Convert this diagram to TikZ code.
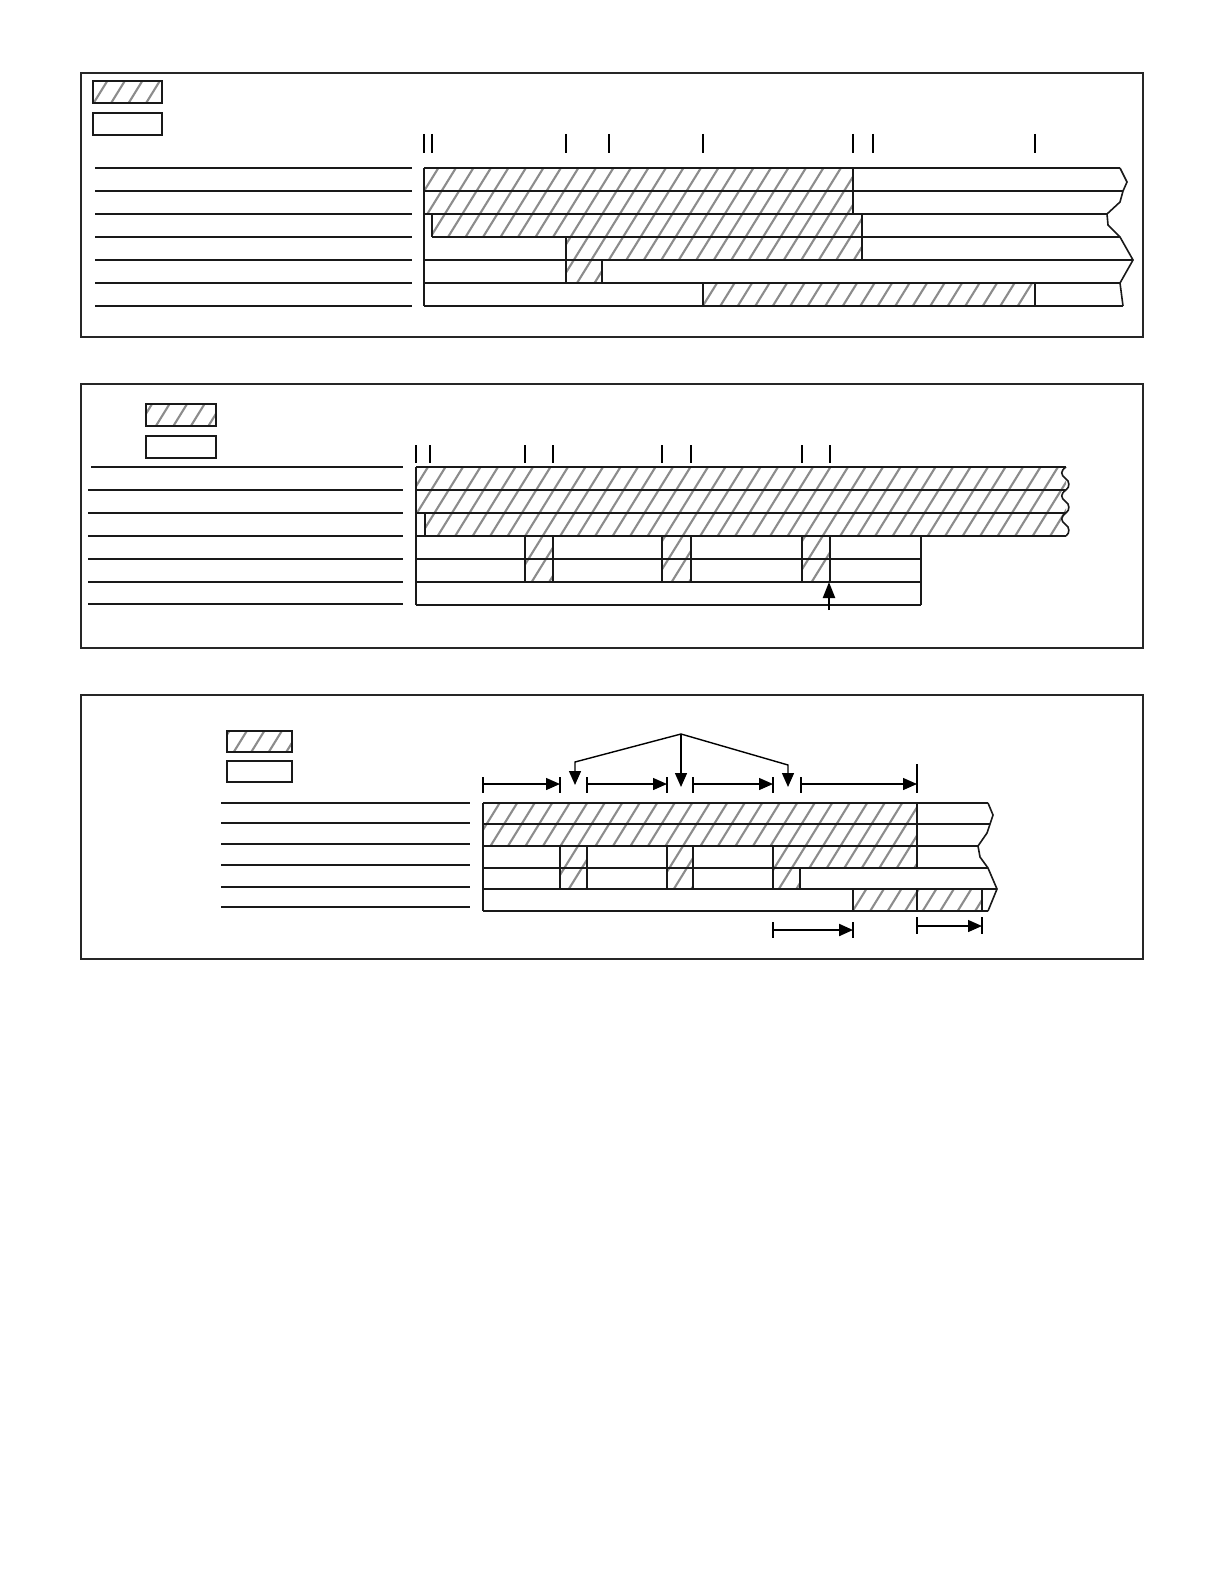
\documentclass[tikz,border=0pt]{standalone}
\usepackage{tikz}
\usetikzlibrary{arrows.meta}

\tikzset{
  hatchline/.style={draw=gray!90, line width=1.05pt},
  panel/.style={draw=black!85, line width=1.4pt},
  bar/.style={draw=black!90, line width=0.8pt},
  heavybar/.style={draw=black!90, line width=1.1pt},
  rule/.style={draw=black!90, line width=0.7pt},
  tickmark/.style={draw=black, line width=0.7pt},
  heavytick/.style={draw=black, line width=1.3pt},
  dim/.style={draw=black, line width=0.7pt, -{Triangle[length=7pt,width=6pt]}},
  probe/.style={draw=black, line width=1.1pt, -{Triangle[length=8pt,width=6pt]}},
}

% diagonal hatching clipped to a box (x1,y1)-(x2,y2)
\newcommand{\hatchfill}[4]{%
  \begin{scope}
    \clip (#1,#2) rectangle (#3,#4);
    \pgfmathtruncatemacro{\hka}{(#1+0.62*#2)/17.5-1}
    \pgfmathtruncatemacro{\hkb}{(#3+0.62*#4)/17.5+1}
    \foreach \k in {\hka,...,\hkb}
      \draw[hatchline] ({17.5*\k-0.62*#4},#4) -- ({17.5*\k-0.62*#2},#2);
  \end{scope}}

\begin{document}
\begin{tikzpicture}[x=0.5pt, y=-0.5pt]
  \path[fill=white, use as bounding box] (0,0) rectangle (1224,1584);

  % ---------- panel 1 ----------
  \draw[panel] (81,73) rectangle (1143,337);
  \hatchfill{93}{81}{162}{103}
  \draw[bar] (93,81) rectangle (162,103);
  \draw[bar] (93,113) rectangle (162,135);
  \foreach \y in {168,191,214,237,283,306}
    \draw[rule] (95,\y) -- (412,\y);
  \draw[heavybar] (95,260) -- (412,260);
  \foreach \x in {432,566,609,853,873}
    \draw[tickmark] (\x,134) -- (\x,153);
  \foreach \x in {424,703,1035}
    \draw[heavytick] (\x,134) -- (\x,153);

  \hatchfill{424}{168}{853}{191}
  \hatchfill{424}{191}{853}{214}
  \hatchfill{432}{214}{862}{237}
  \hatchfill{566}{237}{862}{260}
  \hatchfill{566}{260}{602}{283}
  \hatchfill{703}{283}{1035}{306}

  \draw[heavybar] (424,168) -- (1120,168);
  \draw[heavybar] (424,191) -- (1123,191);
  \draw[bar] (424,214) -- (1107,214);
  \draw[heavybar] (432,237) -- (1120,237);
  \draw[bar] (424,260) -- (1133,260);
  \draw[bar] (424,283) -- (1120,283);
  \draw[bar] (424,306) -- (1123,306);
  \draw[bar] (1120,168) -- (1127,182) -- (1123,191) -- (1120,202) -- (1107,214)
    -- (1108,225) -- (1120,237) -- (1133,260) -- (1120,283) -- (1123,306);
  \draw[heavybar] (424,168) -- (424,306);
  \draw[bar] (853,168) -- (853,214);
  \draw[bar] (432,214) -- (432,237);
  \draw[bar] (862,214) -- (862,260);
  \draw[bar] (566,237) -- (566,283);
  \draw[heavybar] (602,260) -- (602,283);
  \draw[bar] (703,283) -- (703,306);
  \draw[bar] (1035,283) -- (1035,306);

  % ---------- panel 2 ----------
  \draw[panel] (81,384) rectangle (1143,648);
  \hatchfill{146}{404}{216}{426}
  \draw[bar] (146,404) rectangle (216,426);
  \draw[bar] (146,436) rectangle (216,458);
  \draw[rule] (91,467) -- (403,467);
  \foreach \y in {490,513,536,559,582}
    \draw[heavybar] (88,\y) -- (403,\y);
  \draw[rule] (88,604) -- (403,604);
  \foreach \x in {416,553,691,802}
    \draw[tickmark] (\x,445) -- (\x,463);
  \foreach \x in {430,525,662,830}
    \draw[heavytick] (\x,445) -- (\x,463);

  \hatchfill{416}{467}{1066}{513}
  \hatchfill{425}{513}{1066}{536}
  \foreach \a/\b in {525/553,662/691,802/830} {
    \hatchfill{\a}{536}{\b}{582}
  }

  \foreach \y in {467,490,513}
    \draw[bar] (416,\y) -- (1066,\y);
  \draw[heavybar] (416,536) -- (1066,536);
  \foreach \y in {559,582}
    \draw[heavybar] (416,\y) -- (921,\y);
  \draw[heavybar] (416,605) -- (921,605);
  \foreach \y in {467,490,513}
    \draw[bar] (1066,\y) .. controls (1060,\y+4) and (1061,\y+8) .. (1065,\y+11)
      .. controls (1070,\y+14) and (1070,\y+20) .. (1066,\y+23);
  \draw[bar] (416,467) -- (416,605);
  \draw[bar] (425,513) -- (425,536);
  \foreach \x in {525,553,662,691,802,830}
    \draw[heavybar] (\x,536) -- (\x,582);
  \draw[heavybar] (921,536) -- (921,605);
  \coordinate (probe base) at (829,610);
  \coordinate (probe tip) at (829,582);
  \draw[probe] (probe base) -- (probe tip);

  % ---------- panel 3 ----------
  \draw[panel] (81,695) rectangle (1143,959);
  \hatchfill{227}{731}{292}{752}
  \draw[bar] (227,731) rectangle (292,752);
  \draw[bar] (227,761) rectangle (292,782);
  \foreach \y in {803,823,844,865,887,907}
    \draw[rule] (221,\y) -- (470,\y);

  \hatchfill{483}{803}{917}{846}
  \foreach \a/\b in {560/587,667/693} {
    \hatchfill{\a}{846}{\b}{889}
  }
  \hatchfill{773}{846}{917}{868}
  \hatchfill{773}{868}{800}{889}
  \hatchfill{853}{889}{982}{911}

  \draw[bar] (483,803) -- (988,803);
  \draw[bar] (483,824) -- (990,824);
  \draw[heavybar] (483,846) -- (978,846);
  \draw[heavybar] (483,868) -- (988,868);
  \draw[bar] (483,889) -- (997,889);
  \draw[bar] (483,911) -- (988,911);
  \draw[heavybar] (917,911) -- (982,911);
  \draw[bar] (988,803) -- (993,815) -- (990,824) -- (987,833) -- (978,846)
    -- (980,857) -- (988,868) -- (997,889) -- (988,911);
  \draw[bar] (483,803) -- (483,911);
  \draw[bar] (917,803) -- (917,868);
  \foreach \x in {560,587,667,693}
    \draw[heavybar] (\x,846) -- (\x,889);
  \draw[bar] (773,846) -- (773,889);
  \draw[bar] (800,868) -- (800,889);
  \draw[heavybar] (853,889) -- (853,911);
  \draw[bar] (917,889) -- (917,911);
  \draw[bar] (982,889) -- (982,911);

  % spans above the bars
  \foreach \a/\b in {483/560,587/667,693/773,801/917} {
    \draw[tickmark] (\a,777) -- (\a,793);
    \draw[heavytick] (\b,777) -- (\b,793);
    \draw[dim] (\a,784) -- (\b,784);
  }
  \draw[tickmark] (917,764) -- (917,793);

  % callout to the gaps
  \coordinate (apex) at (681,734);
  \coordinate (bend left) at (575,762);
  \coordinate (bend right) at (788,765);
  \coordinate (gap left) at (575,785);
  \coordinate (gap mid) at (681,787);
  \coordinate (gap right) at (788,787);
  \draw[dim] (apex) -- (bend left) -- (gap left);
  \draw[dim] (apex) -- (gap mid);
  \draw[dim] (apex) -- (bend right) -- (gap right);

  % spans below the bars
  \draw[tickmark] (773,922) -- (773,938);
  \draw[heavytick] (853,922) -- (853,938);
  \draw[dim, line width=1.1pt] (773,930) -- (853,930);
  \draw[tickmark] (917,917) -- (917,934);
  \draw[tickmark] (982,917) -- (982,934);
  \draw[dim] (917,926) -- (982,926);
\end{tikzpicture}
\end{document}
